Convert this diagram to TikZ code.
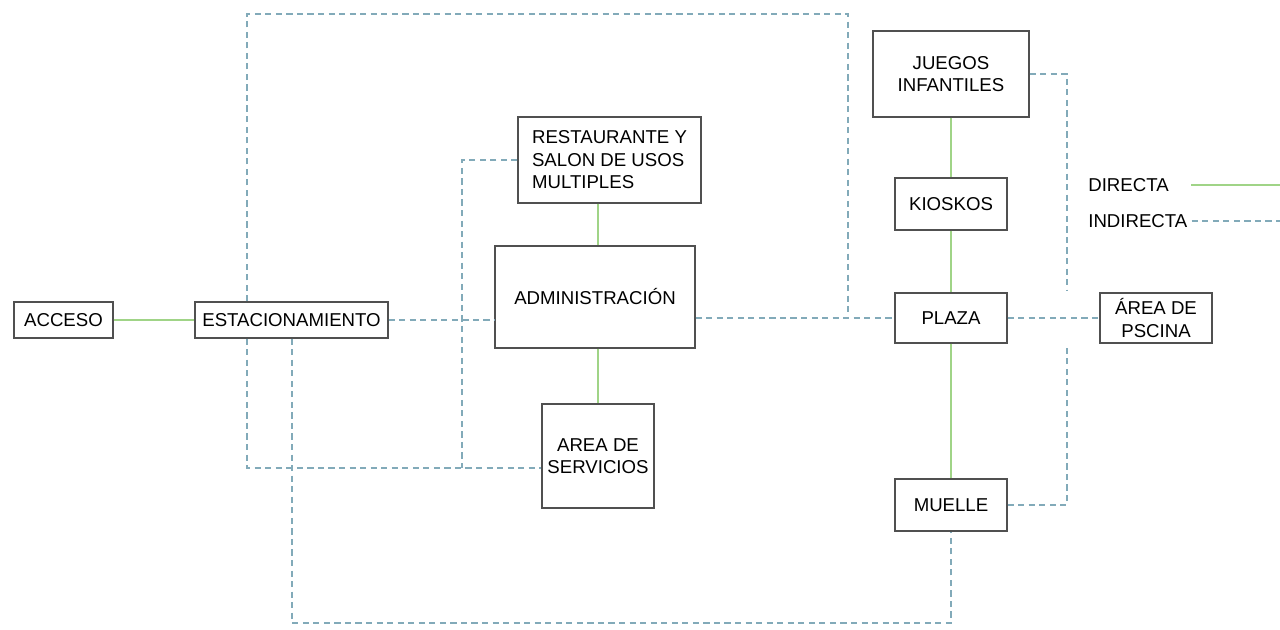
\documentclass[tikz,border=0pt]{standalone}
\usepackage{fontspec}
\setmainfont{Liberation Sans}
\definecolor{verde}{RGB}{160,212,135}
\definecolor{celeste}{RGB}{130,170,185}
\definecolor{borde}{RGB}{80,80,80}
\begin{document}
\begin{tikzpicture}[x=0.02cm, y=-0.02cm,
        every node/.style={font=\fontsize{10.6}{12.8}\selectfont},
        caja/.style={draw=borde, line width=0.7pt, inner sep=0pt, align=center},
        directa/.style={draw=verde, line width=0.8pt},
        indirecta/.style={draw=celeste, line width=0.75pt, dash pattern=on 3.5pt off 2.5pt}]
        \useasboundingbox (0, 0) rectangle (1280, 629);
        \node[caja, minimum width=1.98cm, minimum height=0.72cm] (acceso) at (63.5, 320) {ACCESO};
        \node[caja, minimum width=3.86cm, minimum height=0.72cm] (estac) at (291.5, 320) {ESTACIONAMIENTO};
        \node[caja, align=left, minimum width=3.66cm, minimum height=1.72cm] (restaurante) at (609.5, 160) {RESTAURANTE Y\\SALON DE USOS\\MULTIPLES};
        \node[caja, minimum width=4.00cm, minimum height=2.04cm] (admin) at (595, 297) {ADMINISTRACIÓN};
        \node[caja, minimum width=2.24cm, minimum height=2.08cm] (servicios) at (598, 456) {AREA DE\\SERVICIOS};
        \node[caja, minimum width=3.12cm, minimum height=1.72cm] (juegos) at (951, 74) {JUEGOS\\INFANTILES};
        \node[caja, minimum width=2.24cm, minimum height=1.04cm] (kioskos) at (951, 204) {KIOSKOS};
        \node[caja, minimum width=2.24cm, minimum height=1.00cm] (plaza) at (951, 318) {PLAZA};
        \node[caja, minimum width=2.24cm, minimum height=1.00cm] (piscina) at (1156, 318) {ÁREA DE\\PSCINA};
        \node[caja, minimum width=2.24cm, minimum height=1.04cm] (muelle) at (951, 505) {MUELLE};
        \node[anchor=west, inner sep=0pt] (ldirecta) at (1088, 185) {DIRECTA};
        \node[anchor=west, inner sep=0pt] (lindirecta) at (1088, 221) {INDIRECTA};
        \coordinate (borde) at (1280, 0);
        \coordinate (esq1) at (247, 14);
        \coordinate (esq2) at (848, 14);
        \coordinate (esq3) at (247, 468);
        \coordinate (union) at (462, 468);
        \coordinate (esq4) at (292, 623);
        \coordinate (esq5) at (1067, 290);
        \coordinate (esq6) at (1067, 348);
        \draw[directa] (acceso) -- (estac);
        \draw[directa] (restaurante.south -| servicios) -- (admin.north -| servicios);
        \draw[directa] (admin.south -| servicios) -- (servicios.north);
        \draw[directa] (juegos) -- (kioskos) -- (plaza) -- (muelle);
        \draw[directa] ([xshift=0.44cm]ldirecta.east) -- (ldirecta.east -| borde);
        \draw[indirecta] (estac) -- (admin.west |- estac);
        \draw[indirecta] (admin.east |- plaza) -- (plaza);
        \draw[indirecta] (plaza) -- (piscina);
        \draw[indirecta] (estac.north -| esq1) -- (esq1) -- (esq2) -- (esq2 |- plaza);
        \draw[indirecta] (estac.south -| esq3) -- (esq3) -- (esq3 -| servicios.west);
        \draw[indirecta] (restaurante.west) -| (union);
        \draw[indirecta] (estac.south -| esq4) -- (esq4) -| (muelle.south);
        \draw[indirecta] (juegos.east) -| (esq5);
        \draw[indirecta] (muelle.east) -| (esq6);
        \draw[indirecta] ([xshift=0.08cm]lindirecta.east) -- (lindirecta.east -| borde);
    \end{tikzpicture}
\end{document}
